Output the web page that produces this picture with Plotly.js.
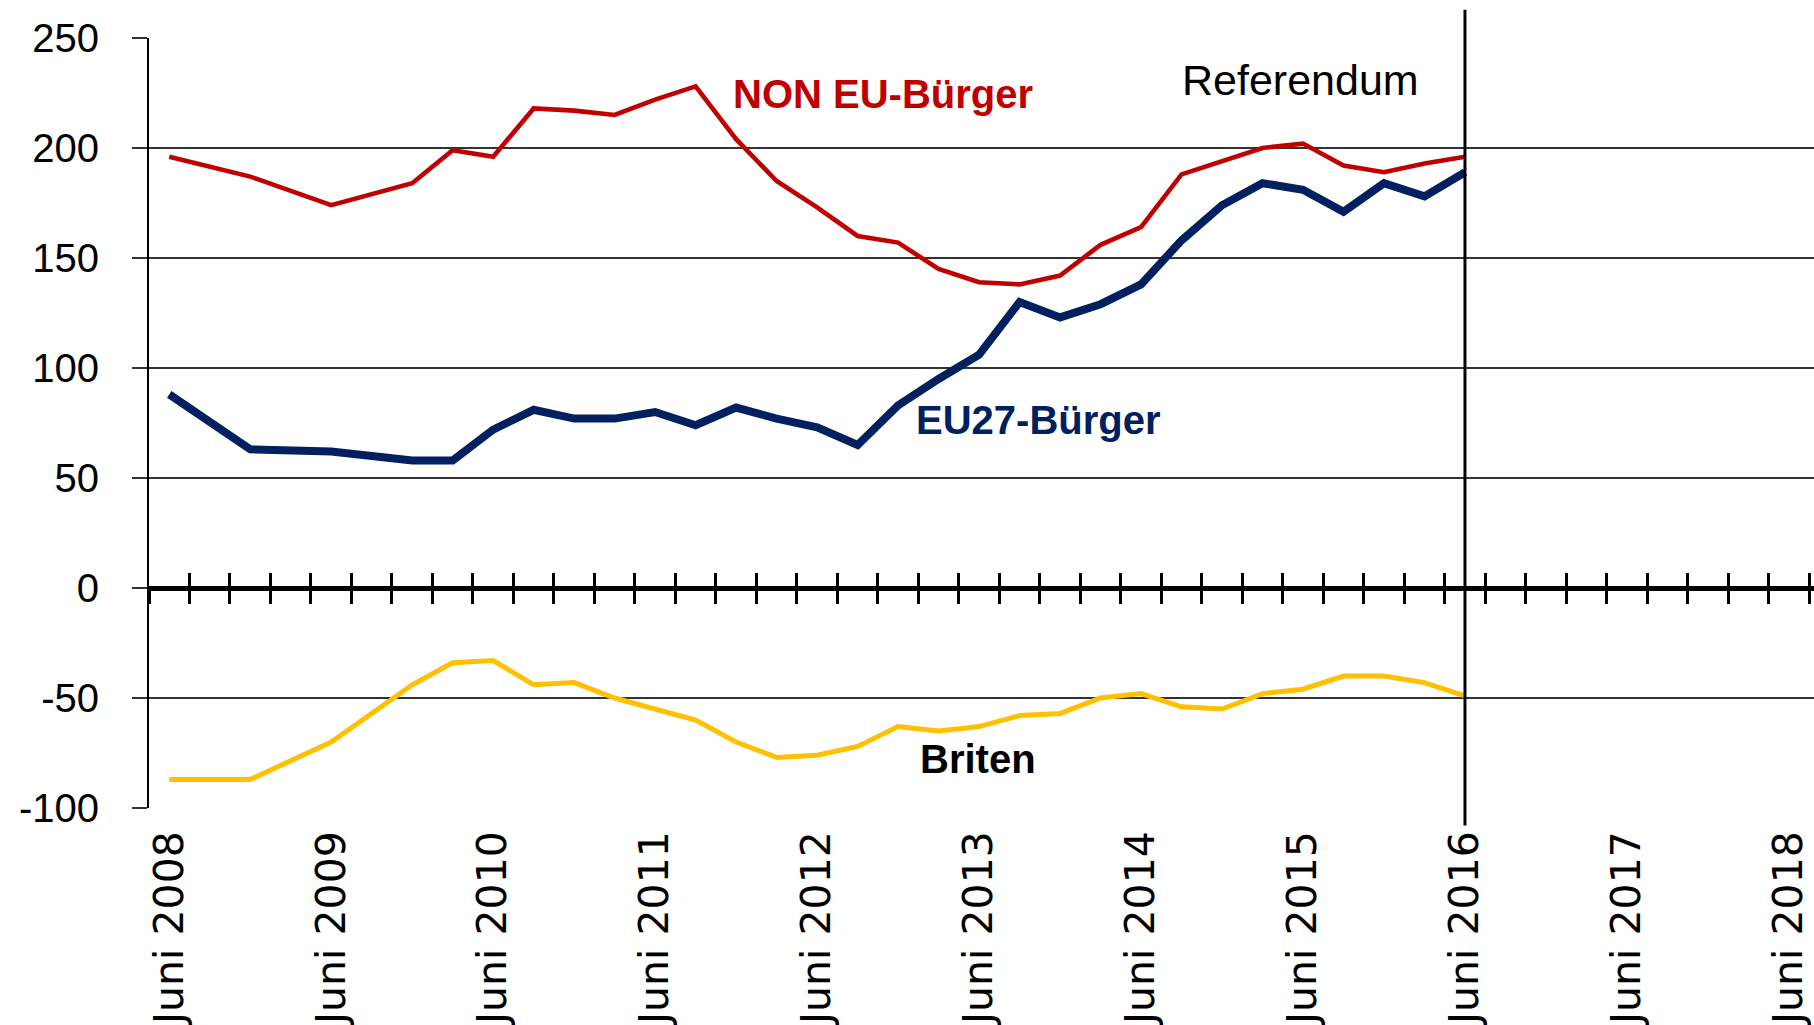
<!DOCTYPE html>
<html>
<head>
<meta charset="utf-8">
<script src="https://cdn.plot.ly/plotly-3.0.1.min.js"></script>
<style>
  html, body { margin: 0; padding: 0; background: #ffffff; }
  #chart { width: 1814px; height: 1025px; }
</style>
</head>
<body>
<div id="chart"></div>
<script>
// Quarterly categories of the time axis
const quarters = [
  'Juni 2008', 'Sept. 2008', 'Dez. 2008', 'März 2009',
  'Juni 2009', 'Sept. 2009', 'Dez. 2009', 'März 2010',
  'Juni 2010', 'Sept. 2010', 'Dez. 2010', 'März 2011',
  'Juni 2011', 'Sept. 2011', 'Dez. 2011', 'März 2012',
  'Juni 2012', 'Sept. 2012', 'Dez. 2012', 'März 2013',
  'Juni 2013', 'Sept. 2013', 'Dez. 2013', 'März 2014',
  'Juni 2014', 'Sept. 2014', 'Dez. 2014', 'März 2015',
  'Juni 2015', 'Sept. 2015', 'Dez. 2015', 'März 2016',
  'Juni 2016', 'Sept. 2016', 'Dez. 2016', 'März 2017',
  'Juni 2017', 'Sept. 2017', 'Dez. 2017', 'März 2018',
  'Juni 2018', 'Sept. 2018'
];

// Series values (thousands), null = no observation (gap is bridged)
const nonEU = [196, null, 187, null, 174, null, 184, 199, 196, 218, 217, 215, 222, 228, 204, 185,
               173, 160, 157, 145, 139, 138, 142, 156, 164, 188, 194, 200, 202, 192, 189, 193, 196];
const eu27  = [88, null, 63, null, 62, null, 58, 58, 72, 81, 77, 77, 80, 74, 82, 77,
               73, 65, 83, 95, 106, 130, 123, 129, 138, 158, 174, 184, 181, 171, 184, 178, 189];
const briten = [-87, null, -87, null, -70, null, -44, -34, -33, -44, -43, -50, -55, -60, -70, -77,
                -76, -72, -63, -65, -63, -58, -57, -50, -48, -54, -55, -48, -46, -40, -40, -43, -49];

// Axis settings
const yTickVals = [-100, -50, 0, 50, 100, 150, 200, 250];
const yTickText = ['-100', '-50', '0', '50', '100', '150', '200', '250'];
const yRange = [-100, 250];
const referendumQuarter = 'Juni 2016';

const tickIdx = quarters.map((q, i) => q.startsWith('Juni') ? i : -1).filter(i => i >= 0);
const tickText = tickIdx.map(i => quarters[i]);
const xRange = [-0.5, 40.62];
const zeroPos = (0 - yRange[0]) / (yRange[1] - yRange[0]);

function idx(arr) { return arr.map((_, i) => i); }

const traces = [
  { x: idx(briten), y: briten, type: 'scatter', mode: 'lines', connectgaps: true,
    line: { color: '#FFC000', width: 5 }, hoverinfo: 'skip', name: 'Briten' },
  { x: idx(eu27), y: eu27, type: 'scatter', mode: 'lines', connectgaps: true,
    line: { color: '#002060', width: 8 }, hoverinfo: 'skip', name: 'EU27-Bürger' },
  { x: idx(nonEU), y: nonEU, type: 'scatter', mode: 'lines', connectgaps: true,
    line: { color: '#C00000', width: 4.6 }, hoverinfo: 'skip', name: 'NON EU-Bürger' },
  { x: [0], y: [null], xaxis: 'x2', type: 'scatter', mode: 'lines', hoverinfo: 'skip', showlegend: false },
  { x: [0], y: [null], xaxis: 'x3', type: 'scatter', mode: 'lines', hoverinfo: 'skip', showlegend: false }
];

const crossTicks = (dir) => ({
  overlaying: 'x', anchor: 'free', position: zeroPos, side: 'bottom',
  type: 'linear', range: xRange, autorange: false,
  showgrid: false, zeroline: false, showline: false, showticklabels: false,
  ticks: dir, ticklen: 15, tickwidth: 3, tickcolor: '#000000',
  tickmode: 'linear', tick0: -0.5, dtick: 1
});

const layout = {
  width: 1814, height: 1025,
  margin: { l: 149, r: 0, t: 38, b: 217 },
  paper_bgcolor: '#ffffff', plot_bgcolor: '#ffffff',
  showlegend: false,
  xaxis: {
    type: 'linear', range: xRange, autorange: false,
    tickmode: 'array', tickvals: tickIdx, ticktext: tickText,
    tickangle: -90, ticks: '', ticklabelstandoff: 14,
    tickfont: { family: 'DejaVu Sans', size: 41, color: '#000000' },
    showgrid: false, zeroline: false, showline: false
  },
  xaxis2: crossTicks('outside'),
  xaxis3: crossTicks('inside'),
  yaxis: {
    range: yRange, autorange: false,
    tickmode: 'array', tickvals: yTickVals, ticktext: yTickText,
    ticks: 'outside', ticklen: 15, tickwidth: 2, tickcolor: '#333333',
    ticklabelstandoff: 25,
    tickfont: { family: 'Liberation Sans', size: 40, color: '#000000' },
    showgrid: true, gridcolor: '#333333', gridwidth: 2,
    zeroline: true, zerolinecolor: '#000000', zerolinewidth: 5,
    showline: true, linecolor: '#000000', linewidth: 2
  },
  shapes: [{
    type: 'line', xref: 'x', yref: 'paper',
    x0: quarters.indexOf(referendumQuarter), x1: quarters.indexOf(referendumQuarter),
    y0: -0.0228, y1: 1.0368,
    line: { color: '#000000', width: 3 }
  }],
  annotations: [
    { text: 'NON EU-Bürger', x: 13.88, y: 224.5, xref: 'x', yref: 'y', xanchor: 'left', yanchor: 'middle',
      showarrow: false, font: { family: 'Liberation Sans', size: 40, color: '#C00000', weight: 'bold' } },
    { text: 'Referendum', x: 24.95, y: 231, xref: 'x', yref: 'y', xanchor: 'left', yanchor: 'middle',
      showarrow: false, font: { family: 'Liberation Sans', size: 43, color: '#000000' } },
    { text: 'EU27-Bürger', x: 18.4, y: 76.4, xref: 'x', yref: 'y', xanchor: 'left', yanchor: 'middle',
      showarrow: false, font: { family: 'Liberation Sans', size: 40, color: '#002060', weight: 'bold' } },
    { text: 'Briten', x: 18.48, y: -77.7, xref: 'x', yref: 'y', xanchor: 'left', yanchor: 'middle',
      showarrow: false, font: { family: 'Liberation Sans', size: 40, color: '#000000', weight: 'bold' } }
  ]
};

Plotly.newPlot('chart', traces, layout, { staticPlot: true, displayModeBar: false });
</script>
</body>
</html>
